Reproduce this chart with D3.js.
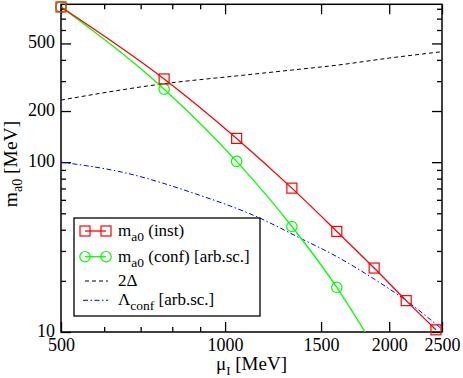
<!DOCTYPE html>
<html>
<head>
<meta charset="utf-8">
<script src="https://cdn.jsdelivr.net/npm/d3@7"></script>
<style>
  body { margin: 0; background: #fff; }
</style>
</head>
<body>
<div id="chart"></div>
<script>
// values
var muInst = [500, 773, 1050, 1326, 1603, 1877, 2149, 2437];
var mInst  = [820, 309, 138, 70.3, 39.1, 23.8, 15.3, 10.3];

var muConf = [500, 773, 1050, 1326, 1603];
var mConf  = [820, 269, 101, 41.8, 18.3];
// the conf curve runs on past the last symbol, down to the frame
var muConfCurve = [500, 773, 1050, 1326, 1603, 1810];
var mConfCurve  = [820, 269, 101, 41.8, 18.3, 9.9];

var muGap = [500, 775, 1050, 1330, 1600, 2000, 2500];
var gap2  = [232, 290, 322, 349, 372, 410, 447];

var muLam = [500, 660, 875, 1159, 1373, 1603, 1877, 2149, 2500];
var lam   = [100, 86.1, 65.7, 46.8, 35.7, 27.8, 20.5, 15.3, 10.4];

var xMajor = [500, 1000, 1500, 2000, 2500];
var xMinor = [600, 700, 800, 900];
var yMajor = [10, 100, 200, 500];
var yMinor = [20, 30, 40, 50, 60, 70, 80, 90, 300, 400, 600, 700, 800];

var FONT = '"Liberation Serif", "Times New Roman", Tinos, "DejaVu Serif", serif';

var margin = {top: 4.3, right: 21, bottom: 46, left: 61},
    width = 463, height = 378,
    w = width - margin.left - margin.right,
    h = height - margin.top - margin.bottom;

var svg = d3.select("#chart").append("svg")
    .attr("width", width)
    .attr("height", height)
    .style("font-family", FONT);

var g = svg.append("g")
    .attr("transform", "translate(" + margin.left + "," + margin.top + ")");

var x = d3.scaleLog().domain([500, 2500]).range([0, w]);
var y = d3.scaleLog().domain([10, 850]).range([h, 0]);

g.append("clipPath").attr("id", "clip")
    .append("rect").attr("width", w).attr("height", h);

// ticks point inwards on all four sides
function drawAxis(axis, tr, size, vals, labels) {
    var a = g.append("g").attr("transform", tr)
        .call(axis.tickValues(vals).tickSize(size).tickSizeOuter(0)
              .tickFormat(labels ? function(d) { return d; } : ""));
    a.attr("font-family", null);
    a.select(".domain").remove();
    a.selectAll("line").attr("stroke", "#000").attr("stroke-width", 1.3);
    a.selectAll("text").style("font-family", FONT).attr("fill", "#000");
    return a;
}

var xb = drawAxis(d3.axisBottom(x), "translate(0," + h + ")", -10, xMajor, true);
xb.selectAll("text").attr("y", 0).attr("dy", 18.5).style("font-size", "18px");
drawAxis(d3.axisBottom(x), "translate(0," + h + ")", -5, xMinor, false);
drawAxis(d3.axisTop(x), "translate(0,0)", -10, xMajor, false);
drawAxis(d3.axisTop(x), "translate(0,0)", -5, xMinor, false);

var yl = drawAxis(d3.axisLeft(y), "translate(0,0)", -10, yMajor, true);
yl.selectAll("text").attr("x", -6).attr("dy", 4.5).style("font-size", "18px");
drawAxis(d3.axisLeft(y), "translate(0,0)", -5, yMinor, false);
drawAxis(d3.axisRight(y), "translate(" + w + ",0)", -10, yMajor, false);
drawAxis(d3.axisRight(y), "translate(" + w + ",0)", -5, yMinor, false);

g.append("rect")
    .attr("width", w).attr("height", h)
    .attr("fill", "none").attr("stroke", "#000").attr("stroke-width", 1.5);

// axis titles
var xt = svg.append("text")
    .attr("x", margin.left + w / 2).attr("y", 370)
    .attr("text-anchor", "middle").style("font-size", "19px");
xt.append("tspan").text("\u03bc");
xt.append("tspan").attr("dy", 5).style("font-size", "13px").text("I");
xt.append("tspan").attr("dy", -5).text(" [MeV]");

var yt = svg.append("text")
    .attr("transform", "translate(17,164) rotate(-90)")
    .attr("text-anchor", "middle").style("font-size", "19.5px");
yt.append("tspan").text("m");
yt.append("tspan").attr("dy", 5).style("font-size", "14px").text("a0");
yt.append("tspan").attr("dy", -5).text(" [MeV]");

// curves
var plot = g.append("g").attr("clip-path", "url(#clip)");

function curve(xs, ys) {
    return d3.line()
        .x(function(d, i) { return x(xs[i]); })
        .y(function(d, i) { return y(ys[i]); })
        .curve(d3.curveMonotoneX)(xs);
}

plot.append("path").attr("d", curve(muGap, gap2))
    .attr("fill", "none").attr("stroke", "#000").attr("stroke-width", 1)
    .attr("stroke-dasharray", "4,3");

plot.append("path").attr("d", curve(muLam, lam))
    .attr("fill", "none").attr("stroke", "#0000ff").attr("stroke-width", 1)
    .attr("stroke-dasharray", "5,2.5,1.5,2.5");

plot.append("path").attr("d", curve(muConfCurve, mConfCurve))
    .attr("fill", "none").attr("stroke", "#00ff00").attr("stroke-width", 1.3);

plot.append("path").attr("d", curve(muInst, mInst))
    .attr("fill", "none").attr("stroke", "#ff0000").attr("stroke-width", 1.3);

// symbols
g.selectAll("circle.conf")
    .data(muConf)
    .enter()
    .append("circle")
        .attr("class", "conf")
        .attr("cx", function(d) { return x(d); })
        .attr("cy", function(d, i) { return y(mConf[i]); })
        .attr("r", 5.2)
        .attr("fill", "none").attr("stroke", "#00ff00").attr("stroke-width", 1.2);

g.selectAll("rect.inst")
    .data(muInst)
    .enter()
    .append("rect")
        .attr("class", "inst")
        .attr("x", function(d) { return x(d) - 5; })
        .attr("y", function(d, i) { return y(mInst[i]) - 5; })
        .attr("width", 10).attr("height", 10)
        .attr("fill", "none").attr("stroke", "#ff0000").attr("stroke-width", 1.2);

// legend
var leg = svg.append("g");
leg.append("rect")
    .attr("x", 74).attr("y", 218).attr("width", 186).attr("height", 98)
    .attr("fill", "#fff").attr("stroke", "#000").attr("stroke-width", 1.3);

var rowY = [231, 256.7, 281, 300.3];

leg.append("line").attr("x1", 85).attr("x2", 106).attr("y1", rowY[0]).attr("y2", rowY[0])
    .attr("stroke", "#ff0000").attr("stroke-width", 1.3);
[85, 106].forEach(function(cx) {
    leg.append("rect").attr("x", cx - 5).attr("y", rowY[0] - 5)
        .attr("width", 10).attr("height", 10)
        .attr("fill", "none").attr("stroke", "#ff0000").attr("stroke-width", 1.2);
});

leg.append("line").attr("x1", 85).attr("x2", 106).attr("y1", rowY[1]).attr("y2", rowY[1])
    .attr("stroke", "#00ff00").attr("stroke-width", 1.3);
[85, 106].forEach(function(cx) {
    leg.append("circle").attr("cx", cx).attr("cy", rowY[1]).attr("r", 5.2)
        .attr("fill", "none").attr("stroke", "#00ff00").attr("stroke-width", 1.2);
});

leg.append("line").attr("x1", 85).attr("x2", 108).attr("y1", rowY[2]).attr("y2", rowY[2])
    .attr("stroke", "#000").attr("stroke-width", 1).attr("stroke-dasharray", "4,3");

leg.append("line").attr("x1", 83).attr("x2", 108).attr("y1", rowY[3]).attr("y2", rowY[3])
    .attr("stroke", "#0000ff").attr("stroke-width", 1).attr("stroke-dasharray", "5,2.5,1.5,2.5");

function legText(i, main, sub, rest) {
    var t = leg.append("text").attr("x", 118).attr("y", rowY[i] + 5).style("font-size", "17px");
    t.append("tspan").text(main);
    if (sub) {
        t.append("tspan").attr("dy", 5).style("font-size", "13.5px").text(sub);
        t.append("tspan").attr("dy", -5).text(rest);
    }
}
legText(0, "m", "a0", " (inst)");
legText(1, "m", "a0", " (conf) [arb.sc.]");
legText(2, "2\u0394", null, null);
legText(3, "\u039b", "conf", " [arb.sc.]");
</script>
</body>
</html>
